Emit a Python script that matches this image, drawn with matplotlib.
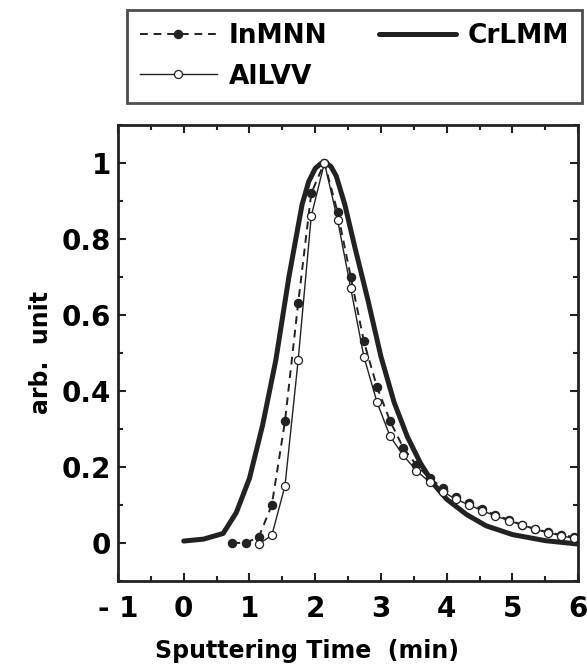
import numpy as np
import matplotlib
matplotlib.use("Agg")
from matplotlib import pyplot as plt
from matplotlib.ticker import MultipleLocator

plt.rcParams["font.family"] = ["DejaVu Sans"]
plt.rcParams["font.weight"] = "bold"

# CrLMM - thick solid curve
cr_x = [0.0, 0.3, 0.6, 0.8, 1.0, 1.2, 1.4, 1.6, 1.8, 1.9, 2.0, 2.08, 2.16, 2.24, 2.32, 2.45,
        2.6, 2.8, 3.0, 3.2, 3.4, 3.6, 3.8, 4.0, 4.3, 4.6, 5.0, 5.5, 6.0]
cr_y = [0.005, 0.01, 0.025, 0.08, 0.17, 0.31, 0.48, 0.70, 0.89, 0.95, 0.985, 0.997, 1.0, 0.99, 0.965, 0.89,
        0.78, 0.64, 0.49, 0.37, 0.28, 0.21, 0.155, 0.115, 0.075, 0.045, 0.022, 0.006, -0.003]

# InMNN - dashed, filled circles
in_x = [0.74, 0.94, 1.14, 1.34, 1.54, 1.74, 1.94, 2.14, 2.34, 2.54, 2.74, 2.94, 3.14, 3.34,
        3.54, 3.74, 3.94, 4.14, 4.34, 4.54, 4.74, 4.94, 5.14, 5.34, 5.54, 5.74, 5.94]
in_y = [0.0, 0.0, 0.015, 0.10, 0.32, 0.63, 0.92, 1.0, 0.87, 0.70, 0.53, 0.41, 0.32, 0.25,
        0.205, 0.17, 0.145, 0.12, 0.105, 0.088, 0.074, 0.061, 0.048, 0.037, 0.028, 0.021, 0.015]

# AlLVV - thin solid, open circles
al_x = [1.14, 1.34, 1.54, 1.74, 1.94, 2.14, 2.34, 2.54, 2.74, 2.94, 3.14, 3.34, 3.54,
        3.74, 3.94, 4.14, 4.34, 4.54, 4.74, 4.94, 5.14, 5.34, 5.54, 5.74, 5.94]
al_y = [-0.003, 0.02, 0.15, 0.48, 0.86, 1.0, 0.85, 0.67, 0.49, 0.37, 0.28, 0.23, 0.19,
        0.16, 0.135, 0.115, 0.10, 0.085, 0.071, 0.059, 0.047, 0.036, 0.027, 0.019, 0.012]

x_ticks = [-1, 0, 1, 2, 3, 4, 5, 6]
x_labels = ["- 1", "0", "1", "2", "3", "4", "5", "6"]
y_ticks = [0, 0.2, 0.4, 0.6, 0.8, 1]
y_labels = ["0", "0.2", "0.4", "0.6", "0.8", "1"]

fig = plt.figure(figsize=(5.87, 6.67), dpi=100)
ax = fig.add_axes([0.201, 0.129, 0.784, 0.684])

ink = "#222222"
l_in, = ax.plot(in_x, in_y, color=ink, lw=1.4, ls=(0, (4, 3)),
                marker="o", ms=5.8, mfc=ink, mec=ink)
l_cr, = ax.plot(cr_x, cr_y, color=ink, lw=3.6, solid_capstyle="round")
l_al, = ax.plot(al_x, al_y, color=ink, lw=1.0,
                marker="o", ms=5.8, mfc="white", mec=ink, mew=0.9)

ax.set_xlim(-0.95, 6.0)
ax.set_ylim(-0.1, 1.1)
ax.set_xticks(x_ticks)
ax.set_xticklabels(x_labels)
ax.set_yticks(y_ticks)
ax.set_yticklabels(y_labels)
ax.xaxis.set_minor_locator(MultipleLocator(0.5))
ax.yaxis.set_minor_locator(MultipleLocator(0.1))
ax.tick_params(which="both", direction="in", top=True, right=True, width=1.5, color=ink)
ax.tick_params(which="major", length=6)
ax.tick_params(which="minor", length=3.5)
ax.tick_params(axis="x", which="major", labelsize=20, pad=10)
ax.tick_params(axis="y", which="major", labelsize=20, pad=5)
for s in ax.spines.values():
    s.set_linewidth(2)
    s.set_color(ink)

ax.set_xlabel("Sputtering Time  (min)", fontsize=17, fontweight="bold")
ax.xaxis.set_label_coords(0.41, -0.127)
ax.set_ylabel("arb.  unit", fontsize=17, fontweight="bold", labelpad=6)

leg = fig.legend([l_in, l_al, l_cr], ["InMNN", "AlLVV", "CrLMM"], ncol=2,
                 loc="upper left", bbox_to_anchor=(0.216, 0.846, 0.776, 0.139),
                 mode="expand", handlelength=2.9, handletextpad=0.45,
                 borderaxespad=0, borderpad=0.5, labelspacing=0.55, columnspacing=0.6,
                 fancybox=False, frameon=True, prop={"weight": "bold", "size": 19})
leg.get_frame().set_edgecolor(ink)
leg.get_frame().set_linewidth(2)

fig.savefig("out.png", dpi=100)
